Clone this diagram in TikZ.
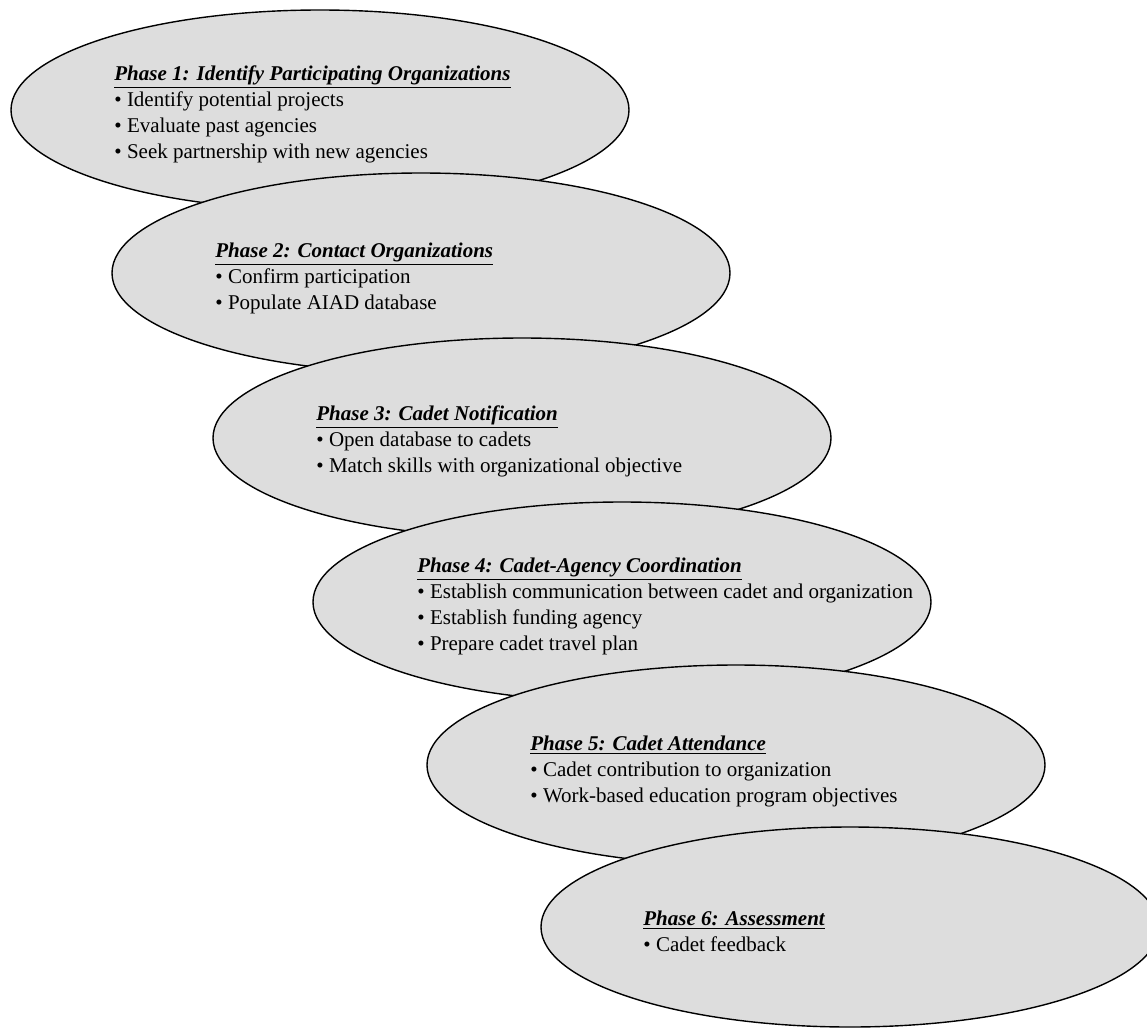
\documentclass[tikz,border=0pt]{standalone}
\usepackage{fontspec}
\setmainfont{Liberation Serif}
\usepackage{tikz}
\usetikzlibrary{ shapes.geometric, positioning }
\definecolor{phasegray}{RGB}{221,221,221}
\tikzset{
x=0.5pt, y=-0.5pt, % one unit is one pixel of the original figure
phase/.style={ellipse, draw, line width=0.7pt, fill=phasegray,
  minimum width=309pt, minimum height=100pt, inner sep=0pt}, % the grey phase ovals
phasetext/.style={anchor=base west, align=left, inner sep=0pt,
  font=\fontsize{10.5}{13}\selectfont}, % title and bullets, placed by the last line
}
\newcommand{\phasetitle}[1]{\underline{\textbf{\textit{#1}}}}

\begin{document}
\begin{tikzpicture}
  \useasboundingbox (0,0) rectangle (1147,1029);
  \node[phase] (e1) at (320,110) {};
  \node[phasetext] (t1) at ([shift={(-206,48)}]e1.center) {\phasetitle{Phase 1: Identify Participating Organizations}\\
    • Identify potential projects\\
    • Evaluate past agencies\\
    • Seek partnership with new agencies};
  \node[phase] (e2) at (421,273) {};
  \node[phasetext] (t2) at ([shift={(-206,36)}]e2.center) {\phasetitle{Phase 2: Contact Organizations}\\
    • Confirm participation\\
    • Populate AIAD database};
  \node[phase] (e3) at (522,438) {};
  \node[phasetext] (t3) at ([shift={(-206,34)}]e3.center) {\phasetitle{Phase 3: Cadet Notification}\\
    • Open database to cadets\\
    • Match skills with organizational objective};
  \node[phase] (e4) at (622,602) {};
  \node[phasetext] (t4) at ([shift={(-205,48)}]e4.center) {\phasetitle{Phase 4: Cadet-Agency Coordination}\\
    • Establish communication between cadet and organization\\
    • Establish funding agency\\
    • Prepare cadet travel plan};
  \node[phase] (e5) at (736,765) {};
  \node[phasetext] (t5) at ([shift={(-206,37)}]e5.center) {\phasetitle{Phase 5: Cadet Attendance}\\
    • Cadet contribution to organization\\
    • Work-based education program objectives};
  \node[phase] (e6) at (850,927) {};
  \node[phasetext] (t6) at ([shift={(-207,24)}]e6.center) {\phasetitle{Phase 6: Assessment}\\
    • Cadet feedback};
\end{tikzpicture}
\end{document}
